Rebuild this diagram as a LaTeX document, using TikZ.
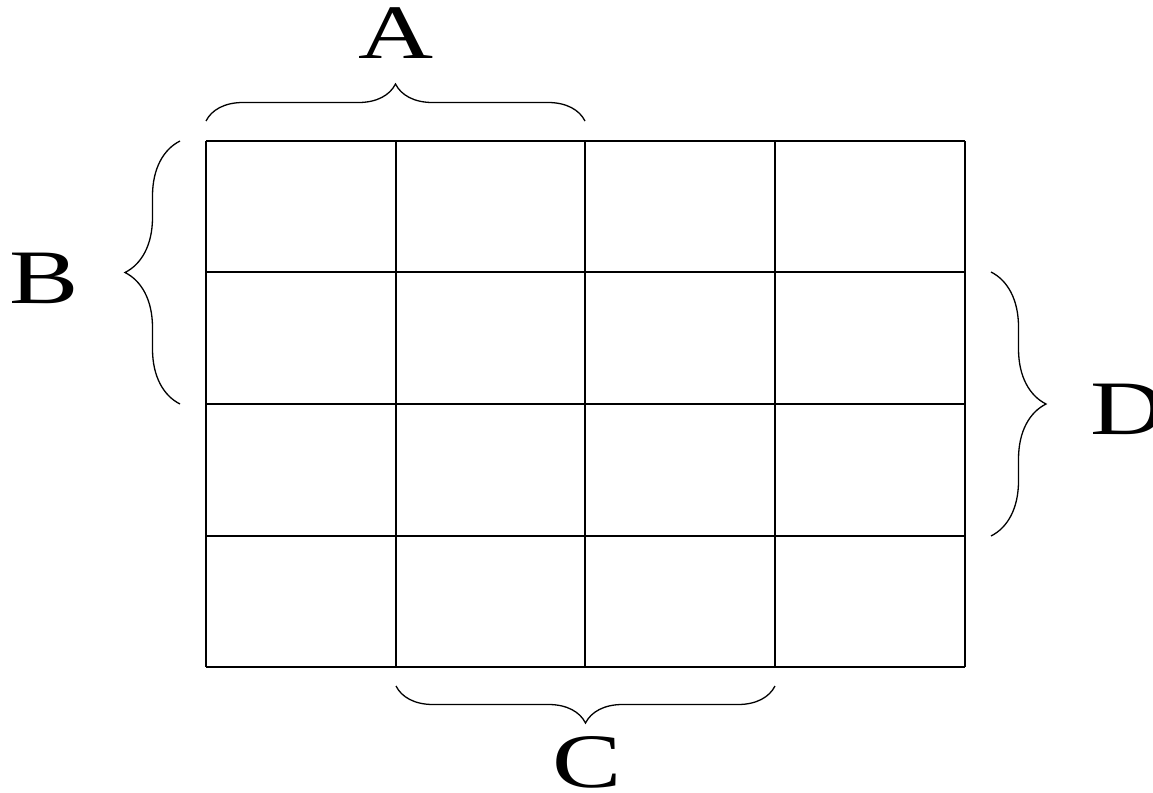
\documentclass[tikz,border=0pt]{standalone}
\usepackage{fontspec}
\setmainfont{Liberation Serif}
\usetikzlibrary{decorations.pathreplacing}
\begin{document}
\begin{tikzpicture}[x=1pt,y=-1pt,
  gridline/.style={line width=1.8pt},
  bracel/.style={line width=1.3pt, decorate, decoration={brace, amplitude=#1}},
  lbl/.style={anchor=base, inner sep=0pt, font=\fontsize{77}{80}\selectfont}]
\useasboundingbox (0,0) rectangle (1153,792);
% grid
\foreach \x in {206,396,585,775,965} \draw[gridline] (\x,141) -- (\x,667);
\foreach \y in {141,272,404,536,667} \draw[gridline] (206,\y) -- (965,\y);
% brace endpoints
\coordinate (a1) at (206,121);
\coordinate (a2) at (585,121);
\coordinate (b1) at (180,404);
\coordinate (b2) at (180,141);
\coordinate (c1) at (775,686);
\coordinate (c2) at (396,686);
\coordinate (d1) at (991,272);
\coordinate (d2) at (991,536);
\draw[bracel=37pt] (a1) -- (a2);
\draw[bracel=55pt] (b1) -- (b2);
\draw[bracel=37pt] (c1) -- (c2);
\draw[bracel=55pt] (d1) -- (d2);
% labels
\node[lbl] (A) at (396.5,59) {\scalebox{1.35}[1]{A}};
\node[lbl] (B) at (44.5,303) {\scalebox{1.35}[1]{B}};
\node[lbl] (C) at (587.5,787) {\scalebox{1.35}[1]{C}};
\node[lbl] (D) at (1128,434) {\scalebox{1.35}[1]{D}};
\end{tikzpicture}
\end{document}
